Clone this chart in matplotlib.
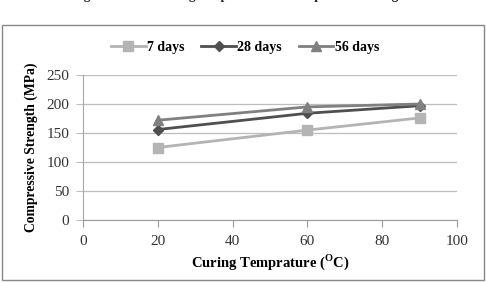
import matplotlib
matplotlib.use("Agg")
import matplotlib.pyplot as plt
from matplotlib.patches import Rectangle

# Données
temperature = [20, 60, 90]
days_7 = [125, 155, 176]
days_28 = [156, 184, 197]
days_56 = [172, 195, 200]
series_labels = ["7 days", "28 days", "56 days"]
x_ticks = [0, 20, 40, 60, 80, 100]
y_ticks = [0, 50, 100, 150, 200, 250]

plt.rcParams['font.family'] = ['Liberation Serif', 'DejaVu Serif']
plt.rcParams['mathtext.fontset'] = 'custom'
plt.rcParams['mathtext.rm'] = 'Liberation Serif:bold'
plt.rcParams['mathtext.bf'] = 'Liberation Serif:bold'

W, H = 486, 283
fig = plt.figure(figsize=(W / 100, H / 100), dpi=100)

# titre coupé en haut de l'image (comme sur l'original)
fig.text(0.5, 1.0 + 4 / H, "Fig. 7 Effect of curing temperature on compressive strength.",
         ha='center', va='center', fontsize=9.5, fontweight='bold', color='#222222')

# cadre extérieur du graphique
fig.patches.append(Rectangle((2 / W, 3 / H), 482 / W, 255 / H, transform=fig.transFigure,
                             fill=False, edgecolor='#888888', linewidth=1.0))

ax = fig.add_axes([83 / W, (H - 220) / H, (457 - 83) / W, 145 / H])

ax.plot(temperature, days_7, color='#b4b4b4', marker='s', markersize=7, linewidth=2,
        label=series_labels[0])
ax.plot(temperature, days_28, color='#4f4f4f', marker='D', markersize=5, linewidth=2,
        label=series_labels[1])
ax.plot(temperature, days_56, color='#808080', marker='^', markersize=7, linewidth=2,
        label=series_labels[2])

ax.set_xlim(0, 100)
ax.set_ylim(0, 250)
ax.set_xticks(x_ticks)
ax.set_yticks(y_ticks)
ax.grid(axis='y', color='#bdbdbd', linewidth=0.9)
ax.set_axisbelow(True)
for side in ['top', 'right']:
    ax.spines[side].set_visible(False)
ax.spines['bottom'].set_color('#9a9a9a')
ax.spines['left'].set_color('#a8a8a8')
ax.tick_params(axis='x', colors='#9a9a9a', length=5, labelcolor='#333333', labelsize=11, pad=6)
ax.tick_params(axis='y', colors='#bdbdbd', length=5, labelcolor='#333333', labelsize=11, pad=5)

ax.set_xlabel(r"Curing Temprature ($^{\mathrm{O}}$C)", fontsize=10.5, fontweight='bold',
              labelpad=3)
ax.set_ylabel("Compressive Strength (MPa)", fontsize=9.8, fontweight='bold', labelpad=6)

fig.legend(loc='center', bbox_to_anchor=(245 / W, 1 - 47 / H), ncol=3, frameon=False,
           prop={'weight': 'bold', 'size': 10}, handlelength=2.5, columnspacing=1.2,
           handletextpad=0.1)

fig.savefig("out.png", dpi=100)
